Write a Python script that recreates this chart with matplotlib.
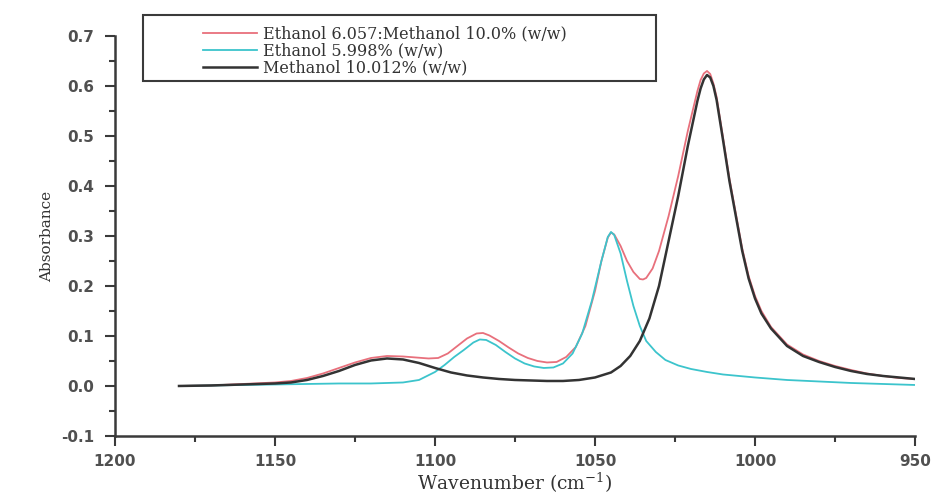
import matplotlib
matplotlib.use("Agg")
import matplotlib.pyplot as plt
from matplotlib.patches import Rectangle
from matplotlib.ticker import MultipleLocator

# Ethanol 6.057 : Methanol 10.0 % (w/w) -- mixture
mix_wn = [1180, 1170, 1160, 1150, 1145, 1140, 1135, 1130, 1125, 1120, 1115, 1110, 1106,
          1102, 1099, 1096, 1093, 1090, 1087, 1085, 1083, 1080, 1077, 1074, 1071, 1068,
          1065, 1062, 1059, 1056, 1053, 1050, 1048, 1046, 1045, 1044, 1042, 1040, 1038,
          1036, 1035, 1034, 1032, 1030, 1027, 1024, 1021, 1018, 1017, 1016, 1015, 1014,
          1013, 1012, 1010, 1008, 1006, 1004, 1002, 1000, 998, 995, 990, 985, 980, 975,
          970, 965, 960, 955, 950]
mix_abs = [0.000, 0.001, 0.004, 0.007, 0.010, 0.016, 0.025, 0.036, 0.047, 0.056, 0.060,
           0.059, 0.057, 0.055, 0.056, 0.065, 0.080, 0.095, 0.105, 0.106, 0.101, 0.090,
           0.077, 0.065, 0.056, 0.050, 0.047, 0.048, 0.058, 0.078, 0.120, 0.190, 0.250,
           0.297, 0.307, 0.303, 0.280, 0.250, 0.228, 0.214, 0.213, 0.216, 0.235, 0.270,
           0.340, 0.420, 0.510, 0.590, 0.612, 0.625, 0.630, 0.624, 0.605, 0.578, 0.497,
           0.415, 0.345, 0.275, 0.220, 0.180, 0.150, 0.118, 0.083, 0.063, 0.050, 0.040,
           0.032, 0.025, 0.020, 0.016, 0.014]

# Ethanol 5.998 % (w/w)
eth_wn = [1180, 1170, 1160, 1150, 1140, 1130, 1120, 1110, 1105, 1100, 1097, 1094, 1091,
          1088, 1086, 1084, 1081, 1078, 1075, 1072, 1069, 1066, 1063, 1060, 1057, 1054,
          1051, 1048, 1046, 1045, 1044, 1042, 1040, 1038, 1036, 1034, 1031, 1028, 1024,
          1020, 1015, 1010, 1000, 990, 980, 970, 960, 950]
eth_abs = [0.000, 0.001, 0.002, 0.003, 0.004, 0.005, 0.005, 0.007, 0.012, 0.028, 0.042,
           0.058, 0.072, 0.087, 0.093, 0.092, 0.082, 0.068, 0.055, 0.045, 0.039, 0.036,
           0.037, 0.045, 0.065, 0.105, 0.170, 0.250, 0.298, 0.308, 0.302, 0.265, 0.210,
           0.160, 0.120, 0.090, 0.068, 0.052, 0.041, 0.034, 0.028, 0.023, 0.017, 0.012,
           0.009, 0.006, 0.004, 0.002]

# Methanol 10.012 % (w/w)
meth_wn = [1180, 1170, 1160, 1150, 1145, 1140, 1135, 1130, 1125, 1120, 1115, 1110, 1105,
           1100, 1095, 1090, 1085, 1080, 1075, 1070, 1065, 1060, 1055, 1050, 1045, 1042,
           1039, 1036, 1033, 1030, 1027, 1024, 1021, 1018, 1017, 1016, 1015, 1014, 1013,
           1012, 1010, 1008, 1006, 1004, 1002, 1000, 998, 995, 990, 985, 980, 975, 970,
           965, 960, 955, 950]
meth_abs = [0.000, 0.001, 0.003, 0.005, 0.007, 0.012, 0.020, 0.030, 0.042, 0.051, 0.055,
            0.053, 0.046, 0.036, 0.027, 0.021, 0.017, 0.014, 0.012, 0.011, 0.010, 0.010,
            0.012, 0.017, 0.027, 0.040, 0.060, 0.090, 0.135, 0.200, 0.290, 0.380, 0.480,
            0.570, 0.595, 0.613, 0.622, 0.617, 0.600, 0.572, 0.492, 0.410, 0.340, 0.270,
            0.215, 0.175, 0.145, 0.115, 0.080, 0.060, 0.048, 0.038, 0.030, 0.024, 0.020,
            0.017, 0.014]

labels = ["Ethanol 6.057:Methanol 10.0% (w/w)", "Ethanol 5.998% (w/w)", "Methanol 10.012% (w/w)"]
colors = ["#e8707c", "#3cc4cc", "#333333"]

fig = plt.figure(figsize=(9.38, 4.99), dpi=100)
ax = fig.add_axes([0.1226, 0.1263, 0.8529, 0.8016])

l1, = ax.plot(mix_wn, mix_abs, color=colors[0], lw=1.3)
l2, = ax.plot(eth_wn, eth_abs, color=colors[1], lw=1.3)
l3, = ax.plot(meth_wn, meth_abs, color=colors[2], lw=1.8)

ax.set_xlim(1200, 950)
ax.set_ylim(-0.1, 0.7)
ax.xaxis.set_major_locator(MultipleLocator(50))
ax.xaxis.set_minor_locator(MultipleLocator(25))
ax.yaxis.set_major_locator(MultipleLocator(0.1))
ax.yaxis.set_minor_locator(MultipleLocator(0.05))
ax.yaxis.set_major_formatter(matplotlib.ticker.FormatStrFormatter("%.1f"))

for s in ["top", "right"]:
    ax.spines[s].set_visible(False)
for s in ["left", "bottom"]:
    ax.spines[s].set_linewidth(1.8)
    ax.spines[s].set_color("#3a3a3a")

ax.tick_params(which="major", direction="out", length=7, width=1.5, color="#3a3a3a",
               labelsize=11, labelcolor="#505050")
ax.tick_params(axis="y", which="major", pad=8)
ax.tick_params(axis="x", which="major", pad=6)
ax.tick_params(which="minor", direction="out", length=4, width=1.5, color="#3a3a3a")
for t in ax.get_xticklabels() + ax.get_yticklabels():
    t.set_fontweight("bold")

ax.set_xlabel("Wavenumber (cm$^{\\mathregular{-1}}$)", family="DejaVu Serif", fontsize=13.5,
              color="#333333", labelpad=1)
ax.set_ylabel("Absorbance", family="DejaVu Serif", fontsize=11, color="#333333", labelpad=5)

# legend box
fig.patches.append(Rectangle((143 / 938, 1 - 81 / 499), (656 - 143) / 938, (81 - 15) / 499,
                             transform=fig.transFigure, fill=False, edgecolor="#3a3a3a",
                             lw=1.5, zorder=5))
leg = fig.legend([l1, l2, l3], labels, loc="upper left", bbox_to_anchor=(190 / 938, 1 - 13 / 499),
                 frameon=False, prop={"family": "DejaVu Serif", "size": 11.5},
                 handlelength=3.4, handletextpad=0.35, labelspacing=0.0, borderpad=0.3)
for t in leg.get_texts():
    t.set_color("#333333")

fig.savefig("out.png", dpi=100)
